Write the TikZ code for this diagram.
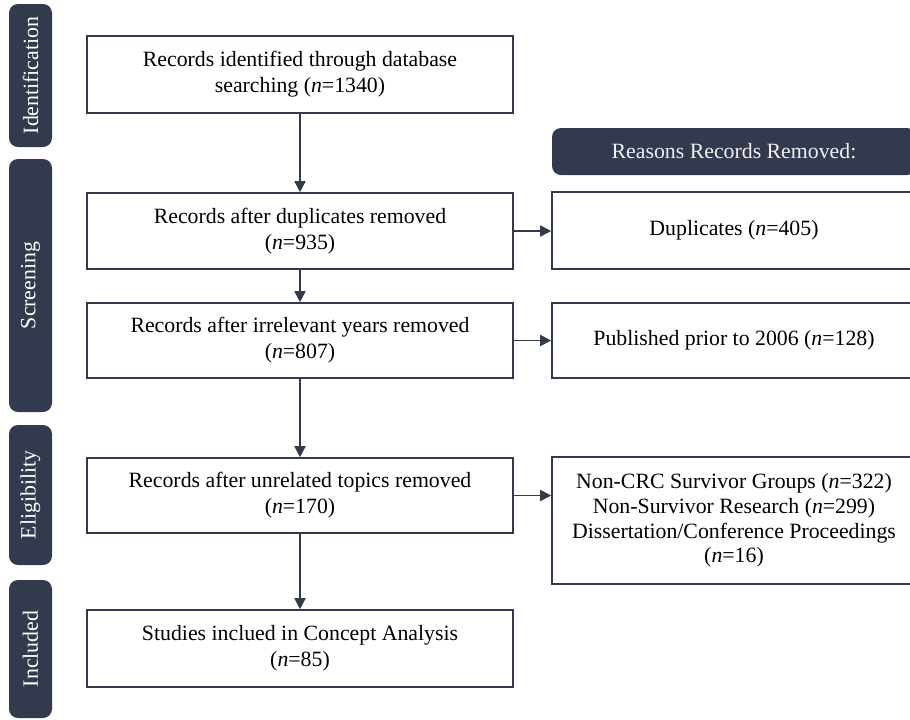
\documentclass[tikz,border=0pt]{standalone}
\usepackage{fontspec}
\setmainfont{Liberation Serif}
\usetikzlibrary{arrows.meta}
\definecolor{navy}{RGB}{52,58,78}
\begin{document}
\begin{tikzpicture}[x=0.5pt,y=-0.5pt,
  mainbox/.style={draw=navy,line width=0.8pt,fill=white,minimum width=213pt,align=center,font=\fontsize{10.9}{13}\selectfont,inner sep=2pt},
  rbox/.style={draw=navy,line width=0.8pt,fill=white,minimum width=182pt,align=center,font=\fontsize{10.9}{12.3}\selectfont,inner sep=2pt},
  sidelab/.style={fill=navy,rounded corners=4.5pt,rotate=90,minimum height=21.5pt,text=white,font=\fontsize{10.9}{12}\selectfont,inner sep=0pt},
  arr/.style={draw=navy,line width=0.9pt,-{Triangle[length=5.5pt,width=5.5pt]}}]
\useasboundingbox (0,0) rectangle (910,719);
\clip (0,0) rectangle (910,719);
% side labels
\node[sidelab,minimum width=71.5pt] (sId) at (30.5,75.5) {Identification};
\node[sidelab,minimum width=126.5pt] (sSc) at (30.5,285.5) {Screening};
\node[sidelab,minimum width=70pt] (sEl) at (30.5,495) {Eligibility};
\node[sidelab,minimum width=69pt] (sIn) at (30.5,649) {Included};
% main boxes
\node[mainbox,minimum height=38.5pt] (b1) at (300,74.5) {Records identified through database\\searching (\textit{n}=1340)};
\node[mainbox,minimum height=38pt] (b2) at (300,231) {Records after duplicates removed\\(\textit{n}=935)};
\node[mainbox,minimum height=37.5pt] (b3) at (300,340.5) {Records after irrelevant years removed\\(\textit{n}=807)};
\node[mainbox,minimum height=37.5pt] (b4) at (300,495.5) {Records after unrelated topics removed\\(\textit{n}=170)};
\node[mainbox,minimum height=38.5pt] (b5) at (300,648.5) {Studies inclued in Concept Analysis\\(\textit{n}=85)};
% right side
\node[fill=navy,rounded corners=4.5pt,minimum width=182pt,minimum height=23.5pt,text=white!92!navy,font=\fontsize{10.9}{12}\selectfont] (hdr) at (734,151.5) {Reasons Records Removed:};
\node[rbox,minimum height=38.5pt] (r2) at (734,230.5) {Duplicates (\textit{n}=405)};
\node[rbox,minimum height=37.5pt] (r3) at (734,340.5) {Published prior to 2006 (\textit{n}=128)};
\node[rbox,minimum height=63.5pt] (r4) at (734,520.5) {Non-CRC Survivor Groups (\textit{n}=322)\\Non-Survivor Research (\textit{n}=299)\\Dissertation/Conference Proceedings\\(\textit{n}=16)};
% arrows
\draw[arr] (b1) -- (b2);
\draw[arr] (b2) -- (b3);
\draw[arr] (b3) -- (b4);
\draw[arr] (b4) -- (b5);
\draw[arr] (b2.east) -- (b2.east -| r2.west);
\draw[arr] (b3.east) -- (b3.east -| r3.west);
\draw[arr] (b4.east) -- (b4.east -| r4.west);
\end{tikzpicture}
\end{document}
